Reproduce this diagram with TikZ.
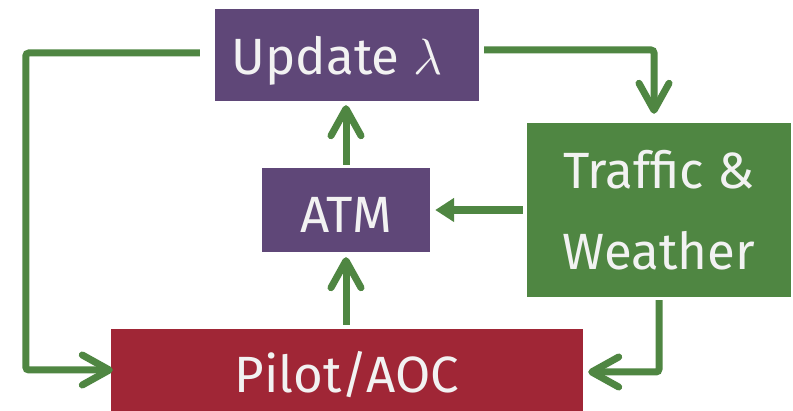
\RequirePackage{fix-cm}
\documentclass[tikz,border=0pt]{standalone}
\usepackage{fontspec}
\setmainfont{Fira Sans}
\usetikzlibrary{arrows.meta}
\definecolor{purp}{HTML}{5F4778}
\definecolor{grn}{HTML}{4F8642}
\definecolor{redb}{HTML}{A02636}
\definecolor{txt}{HTML}{F2F2F2}
\tikzset{
  box/.style={rectangle, draw=none, inner sep=0pt, text=txt,
    font=\fontsize{51}{81}\selectfont},
  flow/.style={draw=grn, line width=7pt, rounded corners=3pt,
    -{Straight Barb[length=27pt,width=30pt,round]}},
  flowtri/.style={draw=grn, line width=8pt,
    -{Triangle[length=19pt,width=23pt]}}
}
\begin{document}
\begin{tikzpicture}[x=1pt,y=-1pt]
\useasboundingbox (0,0) rectangle (793,411);
\node[box, fill=purp, minimum width=264pt, minimum height=92pt,
  text height=40pt, text depth=0pt] (upd) at (347,55) {\hspace*{-20pt}Update $\lambda$};
\node[box, fill=purp, minimum width=168pt, minimum height=84pt,
  text height=46pt, text depth=0pt] (atm) at (346,210) {ATM};
\node[box, fill=grn, minimum width=264pt, minimum height=174pt,
  align=center] (tw) at (659,210) {Traffic \&\\Weather};
\node[box, fill=redb, minimum width=472pt, minimum height=82pt,
  text height=46pt, text depth=0pt] (pil) at (347,370) {Pilot/AOC};
% connectors
\draw[flow, shorten <=15pt, shorten >=-2pt] ([yshift=2pt]upd.west) -- ++(-189,0) |- (pil.west);
\draw[flow, shorten <=5pt, shorten >=9pt] ([yshift=5pt]upd.east) -| ([xshift=-5pt]tw.north);
\draw[flow, shorten <=3pt, shorten >=4pt] (atm.north) -- (atm.north |- upd.south);
\draw[flow, shorten <=4pt, shorten >=5pt] (pil.north -| atm.north) -- (atm.south);
\draw[flowtri, shorten <=4pt, shorten >=5pt] (tw.west) -- (atm.east);
\draw[flow, shorten <=3pt, shorten >=5pt] (tw.south) |- ([yshift=-2pt]pil.east);
\end{tikzpicture}
\end{document}
